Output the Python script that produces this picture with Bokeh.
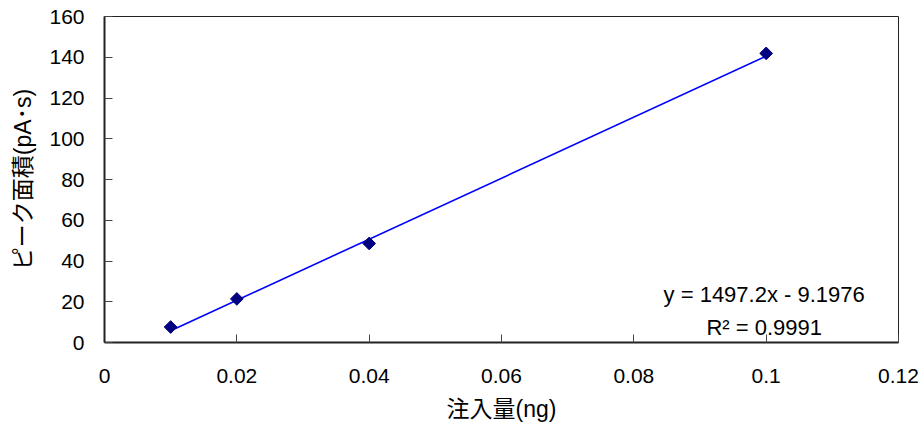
from bokeh.plotting import figure
from bokeh.models import FixedTicker, Label
from bokeh.embed import file_html
from bokeh.resources import INLINE
import numpy as np

# data
x_amount = [0.01, 0.02, 0.04, 0.1]
peak_area = [7.6, 21.4, 48.6, 141.9]
slope = 1497.2
intercept = -9.1976
eq_text = "y = 1497.2x - 9.1976"
r2_text = "R² = 0.9991"
x_ticks = [0, 0.02, 0.04, 0.06, 0.08, 0.1, 0.12]
x_tick_labels = ["0", "0.02", "0.04", "0.06", "0.08", "0.1", "0.12"]
y_ticks = [0, 20, 40, 60, 80, 100, 120, 140, 160]
x_label = "注入量(ng)"
y_label = "ピーク面積(pA･s)"

LATIN = "'Liberation Sans', Arial, sans-serif"
MIXED = "'Liberation Sans', 'Noto Sans CJK JP', sans-serif"

p = figure(width=920, height=424, output_backend="svg", toolbar_location=None,
           x_range=(0, 0.12), y_range=(0, 160),
           min_border_left=104, min_border_right=22, min_border_top=16, min_border_bottom=79)
p.grid.visible = False
p.outline_line_color = "#222222"
p.outline_line_width = 1
p.background_fill_color = "white"
p.border_fill_color = "white"

for ax in (p.xaxis[0], p.yaxis[0]):
    ax.axis_line_color = "#222222"
    ax.axis_line_width = 2
    ax.major_tick_in = 8
    ax.major_tick_out = 0
    ax.major_tick_line_color = "#444444"
    ax.major_tick_line_width = 1
    ax.minor_tick_line_color = None
    ax.major_label_text_font = LATIN
    ax.major_label_text_font_size = "21px"
    ax.major_label_text_color = "black"
    ax.axis_label_text_font = MIXED
    ax.axis_label_text_font_size = "23px"
    ax.axis_label_text_font_style = "normal"
    ax.axis_label_text_color = "black"

p.xaxis.ticker = FixedTicker(ticks=x_ticks)
p.xaxis.major_label_overrides = {t: l for t, l in zip(x_ticks, x_tick_labels)}
p.yaxis.ticker = FixedTicker(ticks=y_ticks)
p.xaxis.major_label_standoff = 26
p.yaxis.major_label_standoff = 20
p.xaxis.axis_label = x_label
p.yaxis.axis_label = y_label
p.xaxis.axis_label_standoff = 10
p.yaxis.axis_label_standoff = 10

# trendline from displayed fit
xl = np.array([min(x_amount), max(x_amount)])
p.line(xl, slope * xl + intercept, line_color="#0000FF", line_width=1.6)

p.scatter(x_amount, peak_area, marker="square", angle=np.pi / 4, size=9,
          fill_color="#000080", line_color="#000080")

p.add_layout(Label(x=0.0997, y=23.8, text=eq_text, text_align="center",
                   text_baseline="alphabetic", text_font=LATIN,
                   text_font_size="22px", text_color="black"))
p.add_layout(Label(x=0.0997, y=7.3, text=r2_text, text_align="center",
                   text_baseline="alphabetic", text_font=LATIN,
                   text_font_size="22px", text_color="black"))

open("out.html", "w").write(file_html(p, INLINE))
